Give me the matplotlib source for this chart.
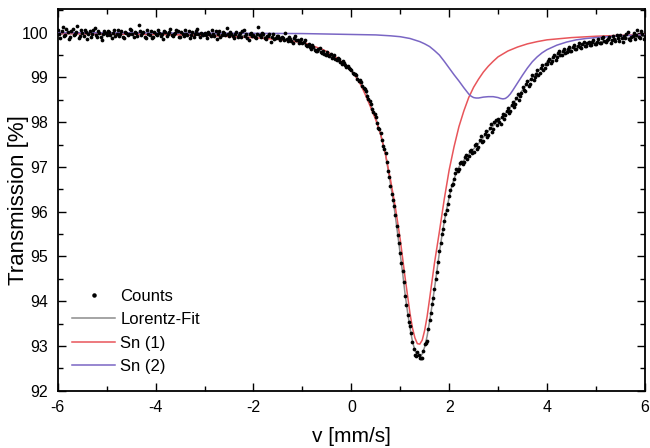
import numpy as np
import matplotlib
matplotlib.use("Agg")
import matplotlib.pyplot as plt
from matplotlib.ticker import MultipleLocator

plt.rcParams['font.family'] = ['Liberation Sans', 'DejaVu Sans']
plt.rcParams['axes.unicode_minus'] = False

# measured spectrum, one value per channel (-6 ... 6 mm/s, 0.025 mm/s steps)
counts = [
    100.05, 99.97, 99.88, 100.03, 100.12, 99.92, 99.95, 100.09, 100.02, 99.86, 99.90, 100.04, 100.08, 99.94, 99.97, 100.01, 100.15, 99.89, 99.93, 100.06,
    99.99, 99.93, 100.06, 100.02, 99.86, 99.97, 100.03, 99.90, 99.96, 100.07, 100.10, 99.95, 99.91, 100.03, 100.00, 99.91, 99.84, 99.98, 100.04, 100.00,
    99.95, 100.04, 100.01, 99.94, 99.89, 99.99, 100.07, 99.93, 99.98, 100.05, 99.92, 99.98, 100.03, 99.90, 99.87, 100.02, 100.00, 99.94, 99.96, 100.08,
    100.05, 99.96, 99.90, 100.01, 99.99, 99.93, 100.17, 100.03, 99.94, 99.99, 100.02, 99.91, 99.88, 100.06, 99.97, 99.95, 100.04, 99.89, 99.91, 100.02,
    99.98, 99.94, 100.06, 100.00, 99.92, 99.97, 99.85, 100.04, 100.01, 99.92, 99.96, 100.02, 100.08, 99.95, 99.93, 99.98, 99.99, 100.05, 100.03, 99.90,
    99.90, 100.01, 99.97, 99.93, 100.05, 99.98, 99.94, 100.03, 99.88, 99.95, 100.02, 99.91, 99.96, 100.04, 100.09, 99.97, 99.91, 100.00, 99.98, 99.94,
    100.00, 99.95, 99.89, 100.02, 99.97, 99.93, 100.06, 99.98, 99.92, 100.04, 99.85, 99.96, 100.03, 99.91, 99.95, 100.01, 99.99, 99.94, 100.10, 99.97,
    99.93, 100.01, 99.98, 99.92, 99.87, 99.96, 100.02, 99.90, 99.94, 99.99, 99.90, 100.03, 100.05, 99.93, 99.96, 99.88, 99.84, 99.97, 99.99, 99.92,
    99.95, 99.91, 99.88, 99.98, 100.12, 99.94, 99.90, 99.99, 99.97, 99.89, 99.86, 99.93, 99.93, 99.97, 99.80, 99.90, 99.96, 99.85, 99.87, 99.92,
    99.92, 99.87, 99.84, 99.91, 99.88, 99.83, 99.99, 99.86, 99.82, 99.90, 99.86, 99.81, 99.78, 99.88, 99.93, 99.84, 99.83, 99.77, 99.80, 99.85,
    99.76, 99.80, 99.84, 99.73, 99.70, 99.75, 99.67, 99.64, 99.73, 99.68, 99.62, 99.60, 99.58, 99.63, 99.66, 99.57, 99.55, 99.59, 99.52, 99.50,
    99.56, 99.49, 99.47, 99.52, 99.43, 99.45, 99.50, 99.41, 99.38, 99.44, 99.42, 99.35, 99.30, 99.36, 99.33, 99.27, 99.24, 99.26, 99.21, 99.18,
    99.17, 99.10, 99.07, 99.08, 99.05, 98.97, 98.93, 98.95, 98.90, 98.81, 98.76, 98.75, 98.69, 98.58, 98.51, 98.48, 98.40, 98.29, 98.22, 98.19,
    98.12, 97.98, 97.88, 97.84, 97.75, 97.60, 97.47, 97.41, 97.30, 97.10, 96.90, 96.77, 96.58, 96.40, 96.27, 96.12, 95.93, 95.68, 95.47, 95.30,
    95.08, 94.86, 94.68, 94.42, 94.12, 93.92, 93.68, 93.54, 93.44, 93.28, 93.08, 92.93, 92.80, 92.77, 92.86, 92.79, 92.72, 92.73, 92.73, 92.88,
    93.04, 93.06, 93.12, 93.37, 93.57, 93.74, 93.93, 94.06, 94.27, 94.49, 94.66, 94.88, 95.13, 95.30, 95.50, 95.61, 95.80, 95.95, 96.04, 96.18,
    96.34, 96.48, 96.60, 96.62, 96.72, 96.86, 96.95, 96.91, 96.96, 97.08, 97.12, 97.06, 97.10, 97.22, 97.27, 97.18, 97.24, 97.35, 97.38, 97.30,
    97.33, 97.48, 97.52, 97.40, 97.45, 97.60, 97.68, 97.55, 97.57, 97.74, 97.80, 97.66, 97.72, 97.88, 97.95, 97.78, 97.84, 98.00, 98.04, 97.93,
    98.06, 98.01, 97.97, 98.12, 98.18, 98.08, 98.15, 98.26, 98.32, 98.20, 98.25, 98.38, 98.46, 98.33, 98.40, 98.54, 98.62, 98.50, 98.58, 98.66,
    98.78, 98.72, 98.70, 98.85, 98.93, 98.80, 98.86, 98.96, 99.05, 98.94, 99.00, 99.08, 99.17, 99.06, 99.10, 99.20, 99.28, 99.16, 99.22, 99.31,
    99.30, 99.37, 99.42, 99.33, 99.36, 99.46, 99.51, 99.40, 99.45, 99.54, 99.58, 99.49, 99.50, 99.60, 99.63, 99.55, 99.56, 99.64, 99.67, 99.59,
    99.60, 99.68, 99.72, 99.63, 99.64, 99.71, 99.76, 99.67, 99.66, 99.74, 99.80, 99.70, 99.70, 99.77, 99.79, 99.73, 99.72, 99.80, 99.83, 99.75,
    99.74, 99.80, 99.85, 99.78, 99.77, 99.88, 99.90, 99.82, 99.79, 99.84, 99.86, 99.91, 99.76, 99.83, 99.92, 99.86, 99.81, 99.94, 99.88, 99.82,
    99.95, 99.87, 99.80, 99.93, 99.89, 99.98, 100.02, 99.85, 99.84, 99.91, 99.93, 100.00, 99.86, 99.94, 100.05, 99.90, 99.88, 100.03, 99.96, 99.86,
    99.92,
]
v_counts = np.linspace(-6, 6, len(counts))

# total fit
v_fit = [-6.0, -3.0, -2.0, -1.5, -1.0, -0.8, -0.6, -0.4, -0.2, 0.0, 0.1, 0.2,
         0.3, 0.4, 0.5, 0.6, 0.7, 0.8, 0.85, 0.9, 0.95, 1.0, 1.05, 1.1, 1.15,
         1.2, 1.25, 1.3, 1.35, 1.4, 1.45, 1.5, 1.55, 1.6, 1.65, 1.7, 1.75, 1.8,
         1.85, 1.9, 1.95, 2.0, 2.05, 2.1, 2.15, 2.2, 2.3, 2.4, 2.5, 2.6, 2.7,
         2.8, 2.9, 3.0, 3.1, 3.2, 3.3, 3.4, 3.5, 3.6, 3.7, 3.8, 3.9, 4.0, 4.2,
         4.4, 4.6, 4.8, 5.0, 5.5, 6.0]
fit = [99.98, 99.96, 99.93, 99.88, 99.78, 99.66, 99.56, 99.46, 99.31, 99.15,
       99.03, 98.88, 98.68, 98.38, 98.10, 97.72, 97.28, 96.62, 96.30, 95.90,
       95.48, 95.05, 94.62, 94.15, 93.75, 93.40, 93.10, 92.90, 92.80, 92.76,
       92.82, 92.98, 93.22, 93.55, 93.90, 94.28, 94.68, 95.08, 95.45, 95.78,
       96.06, 96.32, 96.55, 96.73, 96.88, 97.00, 97.15, 97.28, 97.40, 97.52,
       97.66, 97.80, 97.92, 98.02, 98.13, 98.26, 98.40, 98.56, 98.72, 98.88,
       99.00, 99.12, 99.23, 99.34, 99.50, 99.60, 99.69, 99.74, 99.78, 99.86,
       99.92]

# Sn (1) component
v_sn1 = [-6.0, -5.0, -4.0, -3.0, -2.0, -1.5, -1.0, -0.9, -0.8, -0.7, -0.6,
         -0.5, -0.4, -0.3, -0.2, -0.1, 0.0, 0.1, 0.2, 0.3, 0.4, 0.5, 0.6, 0.7,
         0.8, 0.9, 1.0, 1.1, 1.2, 1.25, 1.3, 1.35, 1.4, 1.45, 1.5, 1.55, 1.6,
         1.7, 1.8, 1.9, 2.0, 2.1, 2.2, 2.3, 2.4, 2.5, 2.6, 2.7, 2.8, 2.9, 3.0,
         3.2, 3.4, 3.6, 3.8, 4.0, 4.5, 5.0, 5.5, 6.0]
sn1 = [99.98, 99.97, 99.96, 99.94, 99.89, 99.85, 99.78, 99.75, 99.71, 99.67,
       99.63, 99.58, 99.51, 99.44, 99.35, 99.26, 99.15, 99.00, 98.82, 98.58,
       98.32, 98.05, 97.73, 97.27, 96.72, 96.10, 95.38, 94.52, 93.72, 93.40,
       93.18, 93.05, 93.04, 93.13, 93.35, 93.66, 94.05, 94.85, 95.55, 96.28,
       96.93, 97.45, 97.90, 98.25, 98.55, 98.78, 98.96, 99.12, 99.25, 99.36,
       99.46, 99.59, 99.68, 99.75, 99.80, 99.84, 99.89, 99.92, 99.94, 99.96]

# Sn (2) component
v_sn2 = [-6.0, -3.0, -1.0, 0.0, 0.5, 0.8, 1.0, 1.2, 1.4, 1.5, 1.6, 1.7, 1.8,
         1.9, 2.0, 2.1, 2.2, 2.3, 2.4, 2.45, 2.5, 2.55, 2.6, 2.7, 2.8, 2.9,
         3.0, 3.05, 3.1, 3.15, 3.2, 3.25, 3.3, 3.4, 3.5, 3.6, 3.7, 3.8, 3.9,
         4.0, 4.2, 4.4, 4.6, 4.8, 5.0, 5.5, 6.0]
sn2 = [100.00, 99.99, 99.98, 99.96, 99.95, 99.93, 99.91, 99.87, 99.80, 99.75,
       99.69, 99.60, 99.50, 99.36, 99.21, 99.06, 98.92, 98.77, 98.63, 98.58,
       98.55, 98.54, 98.54, 98.56, 98.57, 98.57, 98.55, 98.53, 98.52, 98.53,
       98.57, 98.63, 98.71, 98.88, 99.05, 99.21, 99.35, 99.46, 99.55, 99.62,
       99.72, 99.79, 99.84, 99.87, 99.89, 99.93, 99.95]

fig = plt.figure(figsize=(6.5, 4.48), dpi=100)
ax = fig.add_axes([0.089, 0.128, 0.903, 0.851])

ax.plot(v_fit, fit, color='#8c8c8c', lw=1.1, label='Lorentz-Fit', zorder=2)
ax.plot(v_sn1, sn1, color='#e8555a', lw=1.1, label='Sn (1)', zorder=3)
ax.plot(v_sn2, sn2, color='#7a66c4', lw=1.1, label='Sn (2)', zorder=3)
ax.plot(v_counts, counts, 'o', color='black', ms=2.7, mew=0, label='Counts', zorder=4)

ax.set_xlim(-6, 6)
ax.set_ylim(92, 100.52)
ax.xaxis.set_major_locator(MultipleLocator(2))
ax.xaxis.set_minor_locator(MultipleLocator(1))
ax.yaxis.set_major_locator(MultipleLocator(1))
ax.yaxis.set_minor_locator(MultipleLocator(0.5))
ax.tick_params(which='both', direction='in', top=True, right=True,
               labeltop=False, labelright=False, width=1.0)
ax.tick_params(which='major', length=6, labelsize=11.5, pad=7)
ax.tick_params(which='minor', length=3.5)
for s in ax.spines.values():
    s.set_linewidth(1.3)

ax.set_xlabel('v [mm/s]', fontsize=15)
ax.set_ylabel('Transmission [%]', fontsize=16)
ax.xaxis.set_label_coords(0.5, -0.095)
ax.yaxis.set_label_coords(-0.05, 0.5)

h, l = ax.get_legend_handles_labels()
order = [3, 0, 1, 2]
ax.legend([h[i] for i in order], [l[i] for i in order], loc='upper left',
          bbox_to_anchor=(0.024, 0.267), frameon=False, fontsize=12,
          borderpad=0, borderaxespad=0, handlelength=2.6, handletextpad=0.3,
          labelspacing=0.5, markerscale=1.2)

fig.savefig('out.png', dpi=100)
